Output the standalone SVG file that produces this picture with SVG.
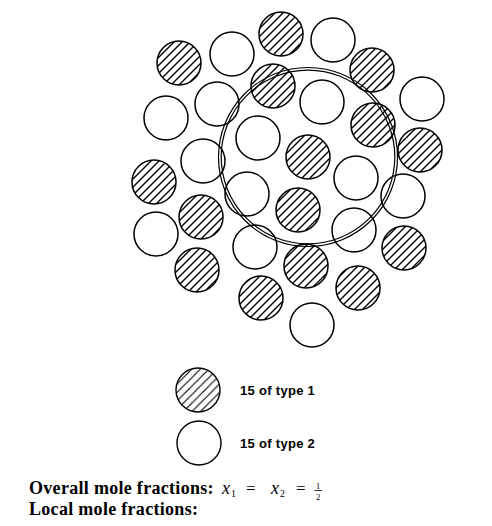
<svg xmlns="http://www.w3.org/2000/svg" width="492" height="526" viewBox="0 0 492 526">
<defs>
<pattern id="hatch" patternUnits="userSpaceOnUse" width="8" height="8">
<path d="M-1,9 L9,-1 M-1,1 L1,-1 M7,9 L9,7" stroke="#000" stroke-width="1.4"/>
</pattern>
<pattern id="hatchL" patternUnits="userSpaceOnUse" width="8.5" height="8.5">
<path d="M-1,9.5 L9.5,-1 M-1,1 L1,-1 M7.5,9.5 L9.5,7.5" stroke="#000" stroke-width="1.1"/>
</pattern>
</defs>
<style>
.h{fill:url(#hatch);stroke:#000;stroke-width:1.5}
.o{fill:#fff;stroke:#000;stroke-width:1.5}
.ring{fill:none;stroke:#000;stroke-width:1.2}
.lg{font-family:"Liberation Sans",Arial,sans-serif;font-size:13px;font-weight:bold;fill:#000;letter-spacing:0.3px}
.bt{font-family:"Liberation Serif","Times New Roman",serif;font-size:18px;font-weight:bold;fill:#000;letter-spacing:0.3px}
.m{font-family:"Liberation Serif","Times New Roman",serif;font-size:18px;font-style:italic;fill:#000}
.mr{font-family:"Liberation Serif","Times New Roman",serif;font-size:17px;fill:#000}
.sub{font-family:"Liberation Serif","Times New Roman",serif;font-size:10px;fill:#000}
.fr{font-family:"Liberation Serif","Times New Roman",serif;font-size:8.5px;fill:#000}
</style>
<rect width="492" height="526" fill="#fff"/>
<g id="molecules">
<g id="h1"><circle class="h" cx="281" cy="34" r="22"/></g>
<g id="h2"><circle class="h" cx="179" cy="63" r="22"/></g>
<g id="h3"><circle class="h" cx="372" cy="70" r="22"/></g>
<g id="h4"><circle class="h" cx="273" cy="86" r="22"/></g>
<g id="h5"><circle class="h" cx="373" cy="125" r="22"/></g>
<g id="h6"><circle class="h" cx="420" cy="150" r="22"/></g>
<g id="h7"><circle class="h" cx="308" cy="157" r="22"/></g>
<g id="h8"><circle class="h" cx="154" cy="182" r="22"/></g>
<g id="h9"><circle class="h" cx="298" cy="210" r="22"/></g>
<g id="h10"><circle class="h" cx="201" cy="217" r="22"/></g>
<g id="h11"><circle class="h" cx="404" cy="248" r="22"/></g>
<g id="h12"><circle class="h" cx="306" cy="266" r="22"/></g>
<g id="h13"><circle class="h" cx="197" cy="270" r="22"/></g>
<g id="h14"><circle class="h" cx="358" cy="288" r="22"/></g>
<g id="h15"><circle class="h" cx="261" cy="298" r="22"/></g>
<g id="o1"><circle class="o" cx="333" cy="40" r="22"/></g>
<g id="o2"><circle class="o" cx="232" cy="54" r="22"/></g>
<g id="o3"><circle class="o" cx="217" cy="104" r="22"/></g>
<g id="o4"><circle class="o" cx="166" cy="118" r="22"/></g>
<g id="o5"><circle class="o" cx="322" cy="102" r="22"/></g>
<g id="o6"><circle class="o" cx="422" cy="99" r="22"/></g>
<g id="o7"><circle class="o" cx="258" cy="138" r="22"/></g>
<g id="o8"><circle class="o" cx="203" cy="161" r="22"/></g>
<g id="o9"><circle class="o" cx="356" cy="178" r="22"/></g>
<g id="o10"><circle class="o" cx="247" cy="194" r="22"/></g>
<g id="o11"><circle class="o" cx="403" cy="196" r="22"/></g>
<g id="o12"><circle class="o" cx="156" cy="234" r="22"/></g>
<g id="o13"><circle class="o" cx="354" cy="230" r="22"/></g>
<g id="o14"><circle class="o" cx="255" cy="247" r="22"/></g>
<g id="o15"><circle class="o" cx="312" cy="325" r="22"/></g>
</g>
<g id="local-region">
<circle class="ring" cx="308" cy="157" r="89.5"/>
<circle class="ring" cx="308" cy="157" r="86.8"/>
</g>
<g id="connectors"></g>
<g id="legend-type1">
<circle cx="198" cy="390" r="22" fill="url(#hatchL)" stroke="#000" stroke-width="1.4"/>
<text class="lg" x="240" y="395">15 of type 1</text>
</g>
<g id="legend-type2">
<circle cx="199" cy="443" r="22" fill="#fff" stroke="#000" stroke-width="1.4"/>
<text class="lg" x="240" y="448">15 of type 2</text>
</g>
<g id="caption">
<text class="bt" x="29" y="494">Overall mole fractions:</text>
<text class="m" x="222" y="494">x</text>
<text class="sub" x="231" y="497">1</text>
<text class="mr" x="246" y="494">=</text>
<text class="m" x="271" y="494">x</text>
<text class="sub" x="280" y="497">2</text>
<text class="mr" x="296" y="494">=</text>
<text class="fr" x="316" y="488.5">1</text>
<line x1="314.5" y1="490.5" x2="322" y2="490.5" stroke="#000" stroke-width="0.8"/>
<text class="fr" x="316" y="499.5">2</text>
<text class="bt" x="29" y="515">Local mole fractions:</text>
</g>
</svg>
